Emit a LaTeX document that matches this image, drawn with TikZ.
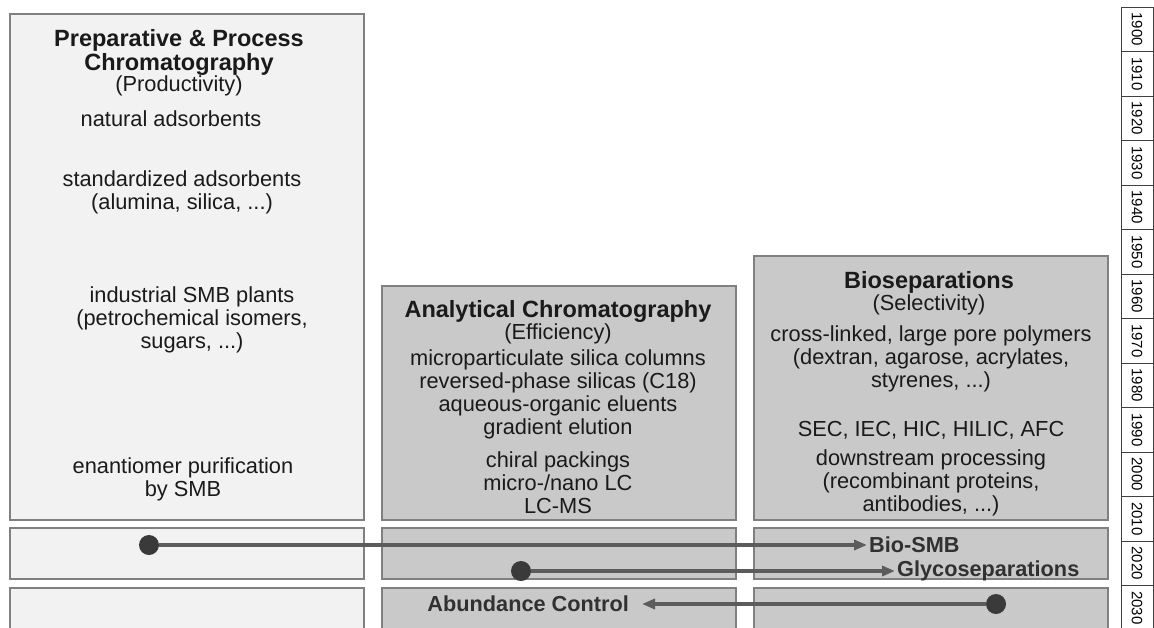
\documentclass[tikz,border=0pt]{standalone}
\usepackage{fontspec}
\setmainfont{Liberation Sans}
\usetikzlibrary{arrows.meta,positioning}
\definecolor{panellight}{HTML}{F2F2F2}
\definecolor{paneldark}{HTML}{C9C9C9}
\definecolor{panelline}{HTML}{808080}
\definecolor{trendline}{HTML}{5C5C5C}
\definecolor{trenddot}{HTML}{3A3A3A}
\definecolor{inktext}{HTML}{1A1A1A}

\begin{document}
\begin{tikzpicture}[
		x=1pt, y=-1pt,
		panel/.style={draw=panelline, line width=1.3pt, inner sep=0pt},
		lightpanel/.style={panel, fill=panellight},
		darkpanel/.style={panel, fill=paneldark},
		txt/.style={align=center, inner sep=0pt, text=inktext, font=\fontsize{21.8}{23}\selectfont},
		head/.style={txt, font=\fontsize{23.5}{24}\selectfont\bfseries},
		rowlabel/.style={inner sep=2pt, text=inktext!90!white, font=\fontsize{21.7}{23}\selectfont\bfseries},
		trend/.style={draw=trendline, line width=4pt, -{Triangle[length=13pt,width=10pt]}},
		trenddotstyle/.style={circle, fill=trenddot, minimum size=20pt, inner sep=0pt},
		yearcell/.style={draw=black!75, line width=1pt, rotate=-90, minimum width=44.5pt, minimum height=32pt, inner sep=0pt, font=\fontsize{15}{15}\selectfont}
	]
	\useasboundingbox (0,0) rectangle (1154,627);
	\clip (0,0) rectangle (1154,627);

	% main panels
	\node[lightpanel, minimum width=354pt, minimum height=506pt] (prep) at (187,267) {};
	\node[darkpanel, minimum width=354pt, minimum height=234pt] (anal) at (559,403) {};
	\node[darkpanel, minimum width=354pt, minimum height=264pt] (bio) at (931,388) {};

	% lower rows
	\node[lightpanel, minimum width=354pt, minimum height=51pt] (prepa) at (187,553.5) {};
	\node[darkpanel, minimum width=354pt, minimum height=51pt] (anala) at (559,553.5) {};
	\node[darkpanel, minimum width=354pt, minimum height=51pt] (bioa) at (931,553.5) {};
	\node[lightpanel, minimum width=354pt, minimum height=60pt] (prepb) at (187,618) {};
	\node[darkpanel, minimum width=354pt, minimum height=60pt] (analb) at (559,618) {};
	\node[darkpanel, minimum width=354pt, minimum height=60pt] (biob) at (931,618) {};

	% preparative
	\node[head] (preptitle) at (179,52) {Preparative \& Process\\Chromatography};
	\node[txt] (prepsub) at (179,86) {(Productivity)};
	\node[txt] (natural) at (171,119) {natural adsorbents};
	\node[txt] (standard) at (182,192) {standardized adsorbents\\(alumina, silica, ...)};
	\node[txt] (industrial) at (192,320) {industrial SMB plants\\(petrochemical isomers,\\sugars, ...)};
	\node[txt] (enantio) at (183,479) {enantiomer purification\\by SMB};

	% analytical
	\node[head] (analtitle) at (558,311) {Analytical Chromatography};
	\node[txt] (analsub) at (558,334) {(Efficiency)};
	\node[txt] (analfirst) at (558,394) {microparticulate silica columns\\reversed-phase silicas (C18)\\aqueous-organic eluents\\gradient elution};
	\node[txt] (analsecond) at (558,483) {chiral packings\\micro-/nano LC\\LC-MS};

	% bioseparations
	\node[head] (biotitle) at (929,282) {Bioseparations};
	\node[txt] (biosub) at (929,305) {(Selectivity)};
	\node[txt] (biofirst) at (931,358.5) {cross-linked, large pore polymers\\(dextran, agarose, acrylates,\\styrenes, ...)};
	\node[txt] (biomodes) at (931,430) {SEC, IEC, HIC, HILIC, AFC};
	\node[txt] (biosecond) at (931,483) {downstream processing\\(recombinant proteins,\\antibodies, ...)};

	% trends
	\node[trenddotstyle] (smbdot) at (149,545) {};
	\node[rowlabel, anchor=west] (biosmb) at (867,545) {Bio-SMB};
	\draw[trend] (smbdot) -- (biosmb.west);

	\node[trenddotstyle] (glycodot) at (521,571) {};
	\node[rowlabel, anchor=west] (glyco) at (895,571) {Glycoseparations};
	\draw[trend] (glycodot) -- (glyco.west);

	\node[trenddotstyle] (abunddot) at (996,604) {};
	\node[rowlabel, inner xsep=13pt, anchor=east] (abund) at (642,604) {Abundance Control};
	\draw[trend] (abunddot) -- (abund.east);

	% time axis
	\foreach \yr [count=\i from 0] in {1900,1910,1920,1930,1940,1950,1960,1970,1980,1990,2000,2010,2020,2030}
		\node[yearcell] (year\yr) at (1137,29.25+44.5*\i) {\yr};
\end{tikzpicture}
\end{document}
